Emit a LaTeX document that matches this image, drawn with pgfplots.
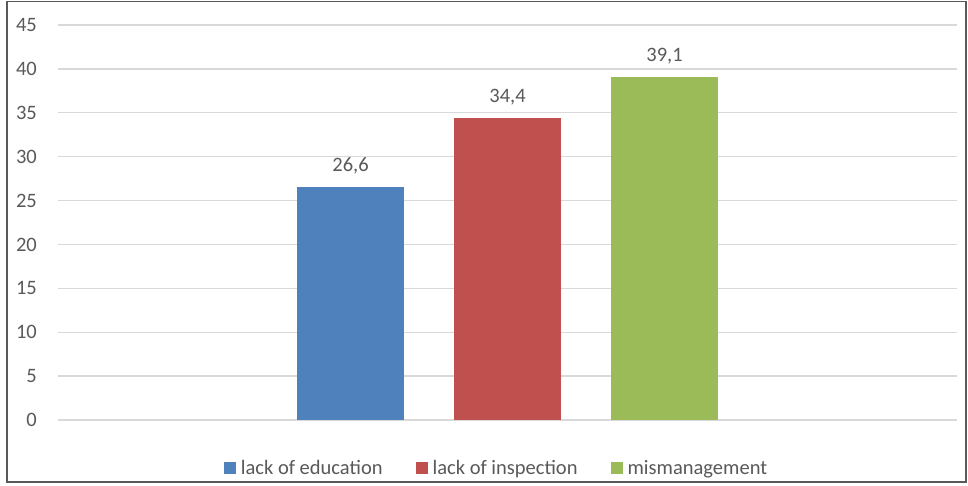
\documentclass[border=0pt]{standalone}
\usepackage{pgfplots}
\pgfplotsset{compat=1.18}
\usepackage{fontspec}
\setmainfont{Carlito}
\definecolor{cblue}{HTML}{4F81BD}
\definecolor{cred}{HTML}{C0504D}
\definecolor{cgreen}{HTML}{9BBB59}
\definecolor{ctext}{HTML}{595959}
\definecolor{cgrid}{HTML}{D9D9D9}
\begin{document}
\begin{tikzpicture}[x=1pt,y=1pt]
\useasboundingbox (0,0) rectangle (968,485);
\draw[color=black!65, line width=1.3pt] (7,3) rectangle (966,483.5);
\begin{axis}[
  at={(58pt,65pt)}, anchor=south west,
  scale only axis, width=899pt, height=395pt,
  xmin=-1, xmax=1, ymin=0, ymax=45,
  ytick={0,5,...,45}, xtick=\empty,
  ybar=50pt, bar width=107pt,
  axis line style={draw=none},
  major tick length=0pt,
  ymajorgrids, grid style={cgrid, line width=1.3pt},
  yticklabel style={anchor=east, inner sep=0pt, xshift=-21pt, font=\fontsize{20.5}{23}\selectfont, text=ctext},
  /pgf/number format/assume math mode=true,
  nodes near coords={\pgfmathprintnumber[use comma,fixed,fixed zerofill,precision=1,assume math mode=true]{\pgfplotspointmeta}},
  nodes near coords style={font=\fontsize{20.5}{23}\selectfont, text=ctext, yshift=9pt},
  legend style={at={(0.4867,-0.1215)}, anchor=center, draw=none, legend columns=-1, font=\fontsize{20.5}{23}\selectfont, text=ctext,
    nodes={inner sep=0pt},
    /tikz/every odd column/.append style={column sep=5pt},
    /tikz/every even column/.append style={column sep=33pt}},
  legend image code/.code={\fill[#1] (0pt,-6pt) rectangle (12pt,6pt);},
]
\addplot[fill=cblue, draw=none] coordinates {(0,26.6)};
\addplot[fill=cred, draw=none] coordinates {(0,34.4)};
\addplot[fill=cgreen, draw=none] coordinates {(0,39.1)};
\legend{lack of education, lack of inspection, mismanagement}
\end{axis}
\end{tikzpicture}
\end{document}
